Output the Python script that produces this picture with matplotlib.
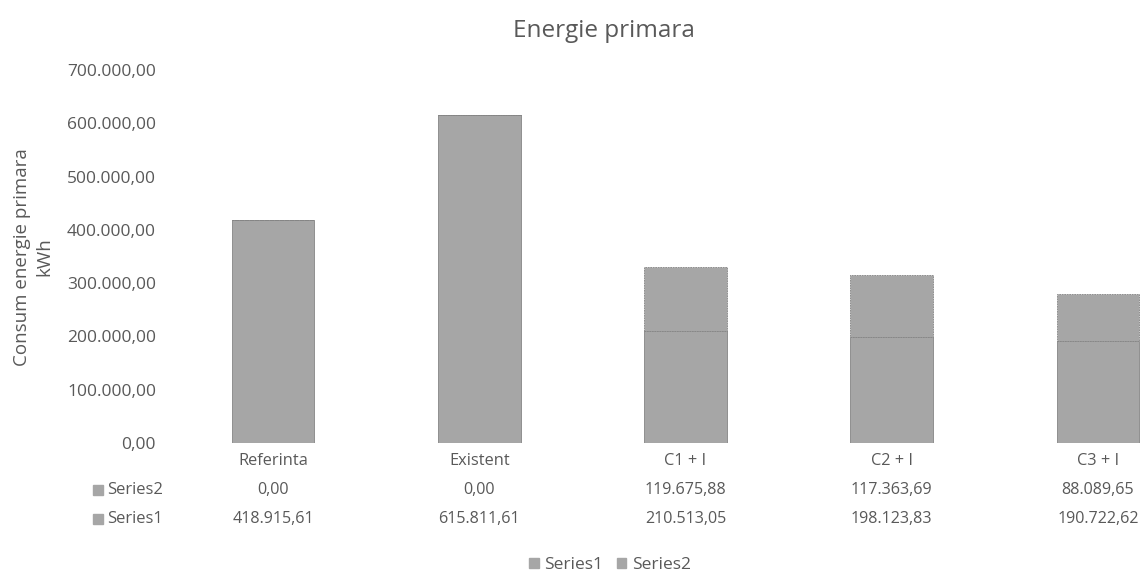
import matplotlib
matplotlib.use("Agg")
import matplotlib.pyplot as plt
from matplotlib import transforms
from matplotlib.patches import Patch

plt.rcParams['font.family'] = ['Open Sans', 'DejaVu Sans']

categories = ["Referinta", "Existent", "C1 + I", "C2 + I", "C3 + I"]
series1 = [418915.61, 615811.61, 210513.05, 198123.83, 190722.62]
series2 = [0.00, 0.00, 119675.88, 117363.69, 88089.65]
yticks = [0, 100000, 200000, 300000, 400000, 500000, 600000, 700000]

bar_color = '#a6a6a6'
edge_color = '#858585'
text_color = '#595959'


def ro(v):
    # 418915.61 -> 418.915,61
    s = f"{v:,.2f}"
    return s.replace(",", "X").replace(".", ",").replace("X", ".")


fig = plt.figure(figsize=(11.42, 5.74), dpi=100)
ax = fig.add_axes([170 / 1142, 1 - 443 / 574, 1031 / 1142, 373 / 574])

x = list(range(len(categories)))
ax.bar(x, series1, width=0.4, color=bar_color, edgecolor=edge_color, linewidth=0.6)
ax.bar(x, series2, width=0.4, bottom=series1, color=bar_color,
       edgecolor=edge_color, linewidth=0.6, linestyle=(0, (2, 1)))

ax.set_xlim(-0.5, len(categories) - 0.5)
ax.set_ylim(0, 700000)
ax.set_yticks(yticks)
ax.set_yticklabels([ro(t) for t in yticks], fontsize=12.5, color=text_color)
ax.tick_params(axis='y', length=0, pad=10)
ax.set_xticks([])
for s in ax.spines.values():
    s.set_visible(False)

fig.text(33 / 1142, 1 - 257 / 574, "Consum energie primara\nkWh", rotation=90,
         ha='center', va='center', fontsize=13.5, color=text_color,
         linespacing=1.3, multialignment='center')

# data table under the bars
trans = transforms.blended_transform_factory(ax.transData, fig.transFigure)
row_y = {'cat': 1 - 461 / 574, 's2': 1 - 490 / 574, 's1': 1 - 519 / 574}
for i, c in enumerate(categories):
    ax.text(i, row_y['cat'], c, transform=trans, ha='center', va='center',
            fontsize=11.8, color=text_color)
    ax.text(i, row_y['s2'], ro(series2[i]), transform=trans, ha='center',
            va='center', fontsize=11.6, color=text_color)
    ax.text(i, row_y['s1'], ro(series1[i]), transform=trans, ha='center',
            va='center', fontsize=11.6, color=text_color)

for key, name in (('s2', 'Series2'), ('s1', 'Series1')):
    fig.patches.append(plt.Rectangle((93 / 1142, row_y[key] - 5 / 574), 10 / 1142, 10 / 574,
                                     transform=fig.transFigure, color=bar_color))
    fig.text(107 / 1142, row_y[key], name, ha='left', va='center',
             fontsize=12, color=text_color)

fig.text(604 / 1142, 1 - 31 / 574, "Energie primara", ha='center', va='center',
         fontsize=17.5, color=text_color)

handles = [Patch(color=bar_color, label="Series1"), Patch(color=bar_color, label="Series2")]
fig.legend(handles=handles, loc='center', bbox_to_anchor=(610 / 1142, 1 - 565 / 574),
           ncol=2, frameon=False, fontsize=12.5, labelcolor=text_color,
           handlelength=0.55, handleheight=0.55, handletextpad=0.3, columnspacing=0.8)

fig.savefig("out.png", dpi=100)
